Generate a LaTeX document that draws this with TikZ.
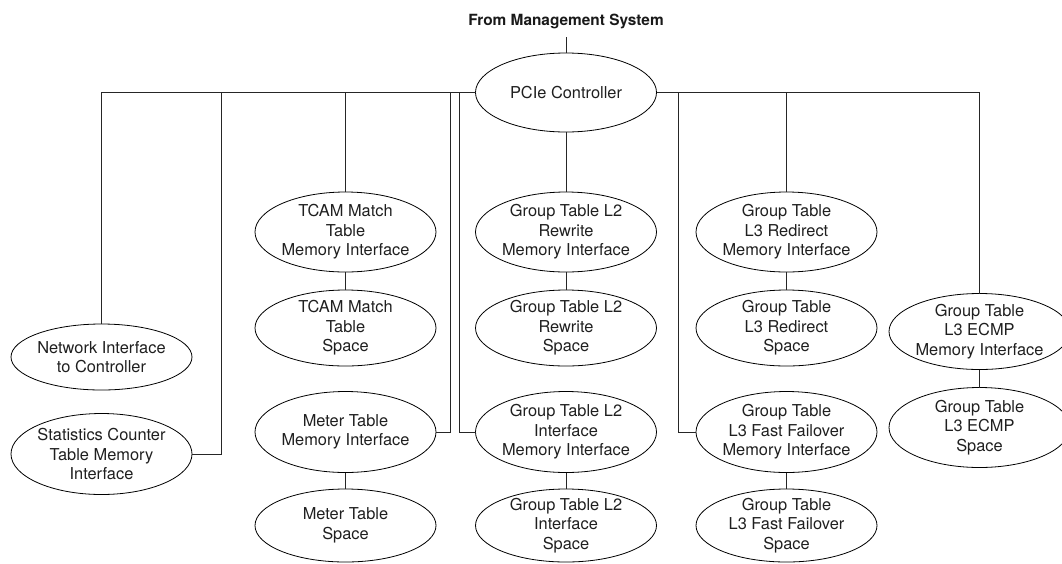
\documentclass[tikz,border=0pt]{standalone}
\usepackage{fontspec}
\setmainfont{TeX Gyre Heros}
\usetikzlibrary{shapes.geometric}

\tikzset{
  ell/.style={draw, ellipse, line width=0.8pt, minimum width=181pt, inner sep=0pt, outer sep=0pt},
  lbl/.style={align=center, inner sep=0pt, font=\fontsize{16.4}{19.5}\selectfont, text=black!88},
  wire/.style={line width=0.9pt, draw=black!85}
}

\begin{document}
\begin{tikzpicture}[x=1pt, y=-1pt]
\useasboundingbox (0,0) rectangle (1062,563);

% source of the management link
\node[font=\bfseries\fontsize{15.4}{18}\selectfont, text=black!90] (title) at (566,21) {From Management System};
\coordinate (feed) at (566,37);

% central controller
\node[ell, minimum height=79pt, label={[lbl]center:PCIe Controller}] (pcie) at (566,92.5) {};

% left branch
\node[ell, minimum height=66pt, label={[lbl]center:Network Interface\\to Controller}] (net) at (101.5,357) {};
\node[ell, minimum height=81pt, label={[lbl]center:Statistics Counter\\Table Memory\\Interface}] (stat) at (101.5,454) {};

\node[ell, minimum height=80pt, label={[lbl]center:TCAM Match\\Table\\Memory Interface}] (tcammi) at (345.5,232) {};
\node[ell, minimum height=76pt, label={[lbl]center:TCAM Match\\Table\\Space}] (tcamsp) at (345.5,328) {};
\node[ell, minimum height=81pt, label={[lbl]center:Meter Table\\Memory Interface}] (metermi) at (345.5,432) {};
\node[ell, minimum height=73pt, label={[lbl]center:Meter Table\\Space}] (metersp) at (345.5,525.5) {};

% middle column
\node[ell, minimum height=80pt, label={[lbl]center:Group Table L2\\Rewrite\\Memory Interface}] (l2rwmi) at (566,232) {};
\node[ell, minimum height=76pt, label={[lbl]center:Group Table L2\\Rewrite\\Space}] (l2rwsp) at (566,328) {};
\node[ell, minimum height=81pt, label={[lbl]center:Group Table L2\\Interface\\Memory Interface}] (l2ifmi) at (566,432) {};
\node[ell, minimum height=73pt, label={[lbl]center:Group Table L2\\Interface\\Space}] (l2ifsp) at (566,525.5) {};

% right branch
\node[ell, minimum height=80pt, label={[lbl]center:Group Table\\L3 Redirect\\Memory Interface}] (l3rdmi) at (786.5,232) {};
\node[ell, minimum height=76pt, label={[lbl]center:Group Table\\L3 Redirect\\Space}] (l3rdsp) at (786.5,328) {};
\node[ell, minimum height=81pt, label={[lbl]center:Group Table\\L3 Fast Failover\\Memory Interface}] (l3ffmi) at (786.5,432) {};
\node[ell, minimum height=73pt, label={[lbl]center:Group Table\\L3 Fast Failover\\Space}] (l3ffsp) at (786.5,525.5) {};

\node[ell, minimum height=76pt, label={[lbl]center:Group Table\\L3 ECMP\\Memory Interface}] (ecmpmi) at (979.5,331.5) {};
\node[ell, minimum height=80pt, label={[lbl]center:Group Table\\L3 ECMP\\Space}] (ecmpsp) at (979.5,427.5) {};

% bend points of the bus drops
\coordinate (sbend) at (221.5,454);
\coordinate (mbend) at (450.5,432);
\coordinate (ibend) at (459.5,432);
\coordinate (fbend) at (678.5,432);

% connectors
\draw[wire] (feed) -- (pcie.north);
\draw[wire] (pcie.west) -| (net.north);
\draw[wire] (pcie.west) -| (sbend) -- (stat.east);
\draw[wire] (pcie.west) -| (tcammi.north);
\draw[wire] (pcie.west) -| (mbend) -- (metermi.east);
\draw[wire] (pcie.west) -| (ibend) -- (l2ifmi.west);
\draw[wire] (pcie.south) -- (l2rwmi.north);
\draw[wire] (pcie.east) -| (fbend) -- (l3ffmi.west);
\draw[wire] (pcie.east) -| (l3rdmi.north);
\draw[wire] (pcie.east) -| (ecmpmi.north);

\draw[wire] (tcammi) -- (tcamsp);
\draw[wire] (metermi) -- (metersp);
\draw[wire] (l2rwmi) -- (l2rwsp);
\draw[wire] (l2ifmi) -- (l2ifsp);
\draw[wire] (l3rdmi) -- (l3rdsp);
\draw[wire] (l3ffmi) -- (l3ffsp);
\draw[wire] (ecmpmi) -- (ecmpsp);
\end{tikzpicture}
\end{document}
